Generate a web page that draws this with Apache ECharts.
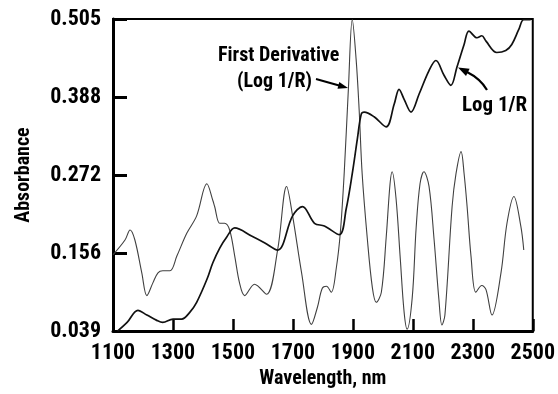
<!DOCTYPE html>
<html>
<head>
<meta charset="utf-8">
<script src="https://cdn.jsdelivr.net/npm/echarts@6/dist/echarts.min.js"></script>
<style>
html,body{margin:0;padding:0;background:#fff;}
#chart{width:558px;height:394px;}
</style>
</head>
<body>
<div id="chart"></div>
<script>
// Axis tick labels
const xTickLabels = ['1100','1300','1500','1700','1900','2100','2300','2500'];
const yTickLabels = ['0.039','0.156','0.272','0.388','0.505'];
const X0 = 1100;   // axis origin (nm)
const Y0 = 0.039;  // axis origin (absorbance)

// First derivative (Log 1/R)
const derivWl  = [1100,1140,1157,1173,1196,1213,1233,1250,1266,1290,1313,1346,1379,1413,1433,1439,1456,1472,1489,1506,1522,1539,1572,1612,1649,1679,1699,1729,1762,1782,1798,1812,1828,1845,1858,1871,1885,1898,1911,1921,1931,1948,1965,1978,1995,2011,2024,2031,2044,2058,2071,2081,2098,2111,2124,2137,2154,2171,2187,2197,2207,2231,2244,2261,2271,2281,2294,2310,2330,2344,2364,2394,2414,2437,2460,2470];
const derivAbs = [0.153,0.175,0.190,0.175,0.126,0.092,0.111,0.126,0.129,0.129,0.151,0.185,0.211,0.259,0.234,0.225,0.200,0.200,0.190,0.151,0.111,0.092,0.109,0.094,0.160,0.255,0.211,0.126,0.049,0.075,0.103,0.106,0.097,0.134,0.185,0.274,0.400,0.504,0.444,0.369,0.274,0.178,0.104,0.082,0.097,0.178,0.259,0.277,0.237,0.148,0.067,0.042,0.089,0.193,0.259,0.277,0.255,0.175,0.086,0.048,0.063,0.225,0.274,0.307,0.274,0.225,0.151,0.097,0.107,0.101,0.063,0.126,0.200,0.240,0.196,0.160];

// Log 1/R
const logWl  = [1115,1147,1183,1213,1246,1266,1300,1329,1356,1379,1413,1433,1456,1480,1506,1562,1605,1649,1699,1732,1772,1805,1855,1878,1898,1915,1928,1938,1971,2011,2038,2054,2071,2094,2121,2154,2177,2204,2227,2247,2271,2287,2314,2330,2344,2380,2410,2430,2453,2470,2493];
const logAbs = [0.039,0.052,0.070,0.063,0.055,0.052,0.057,0.057,0.067,0.082,0.116,0.141,0.163,0.180,0.193,0.181,0.171,0.160,0.211,0.225,0.200,0.196,0.183,0.222,0.274,0.326,0.363,0.366,0.359,0.344,0.378,0.400,0.385,0.366,0.393,0.428,0.443,0.421,0.406,0.433,0.467,0.487,0.477,0.480,0.472,0.455,0.458,0.467,0.489,0.504,0.504];

const toPts = (xs, ys) => xs.map((x, i) => [x - X0, (ys[i] - Y0) * 1000]);

const FONT = "'Roboto Condensed',Roboto,sans-serif";

const chart = echarts.init(document.getElementById('chart'), null, {renderer: 'canvas'});
chart.setOption({
  backgroundColor: '#fff',
  animation: false,
  grid: {left: 113, right: 23, top: 19, bottom: 60, show: true, borderColor: '#000', borderWidth: 2, backgroundColor: 'transparent'},
  xAxis: {
    type: 'value', min: 0, max: 1400, interval: 200,
    name: 'Wavelength, nm', nameLocation: 'middle', nameGap: 37,
    nameTextStyle: {fontFamily: FONT, fontWeight: 'bold', fontSize: 20, color: '#000'},
    axisLine: {show: true, lineStyle: {color: '#000', width: 3}},
    axisTick: {show: true, inside: true, length: 12, lineStyle: {color: '#000', width: 2.5}},
    axisLabel: {margin: 11, fontFamily: FONT, fontWeight: 'bold', fontSize: 22, color: '#000',
      formatter: v => xTickLabels[Math.round(v / 200)] || ''},
    splitLine: {show: false}
  },
  yAxis: {
    type: 'value', min: 0, max: 466, interval: 116.5,
    name: 'Absorbance', nameLocation: 'middle', nameGap: 79, nameRotate: 90,
    nameTextStyle: {fontFamily: FONT, fontWeight: 'bold', fontSize: 20, color: '#000'},
    axisLine: {show: true, lineStyle: {color: '#000', width: 3}},
    axisTick: {show: true, inside: true, length: 14, lineStyle: {color: '#000', width: 3}},
    axisLabel: {margin: 12, fontFamily: FONT, fontWeight: 'bold', fontSize: 22, color: '#000',
      formatter: v => yTickLabels[Math.round(v / 116.5)] || ''},
    splitLine: {show: false}
  },
  series: [
    {
      name: 'First Derivative (Log 1/R)', type: 'line', data: toPts(derivWl, derivAbs),
      smooth: 0.35, showSymbol: false, symbol: 'none', clip: true,
      lineStyle: {color: '#404040', width: 1.1}
    },
    {
      name: 'Log 1/R', type: 'line', data: toPts(logWl, logAbs),
      smooth: 0.35, showSymbol: false, symbol: 'none', clip: true,
      lineStyle: {color: '#111', width: 1.7}
    }
  ],
  graphic: [
    {type: 'text', left: 218, top: 46, style: {text: 'First Derivative', font: "bold 20px " + FONT, fill: '#000'}},
    {type: 'text', left: 237, top: 72, style: {text: '(Log 1/R)', font: "bold 20px " + FONT, fill: '#000'}},
    {type: 'line', shape: {x1: 316, y1: 79, x2: 340, y2: 85.8}, style: {stroke: '#000', lineWidth: 2}},
    {type: 'polygon', shape: {points: [[348, 88], [337.5, 88.8], [339.3, 82.0]]}, style: {fill: '#000'}},
    {type: 'text', left: 462, top: 95, style: {text: 'Log 1/R', font: "bold 21px " + FONT, fill: '#000'}},
    {type: 'bezierCurve', shape: {x1: 487, y1: 90, x2: 467, y2: 72, cpx1: 480.4, cpy1: 78.7}, style: {stroke: '#000', lineWidth: 2.2, fill: 'none'}},
    {type: 'polygon', shape: {points: [[458, 67.5], [469.6, 68.8], [466.0, 76.0]]}, style: {fill: '#000'}}
  ]
});
</script>
</body>
</html>
